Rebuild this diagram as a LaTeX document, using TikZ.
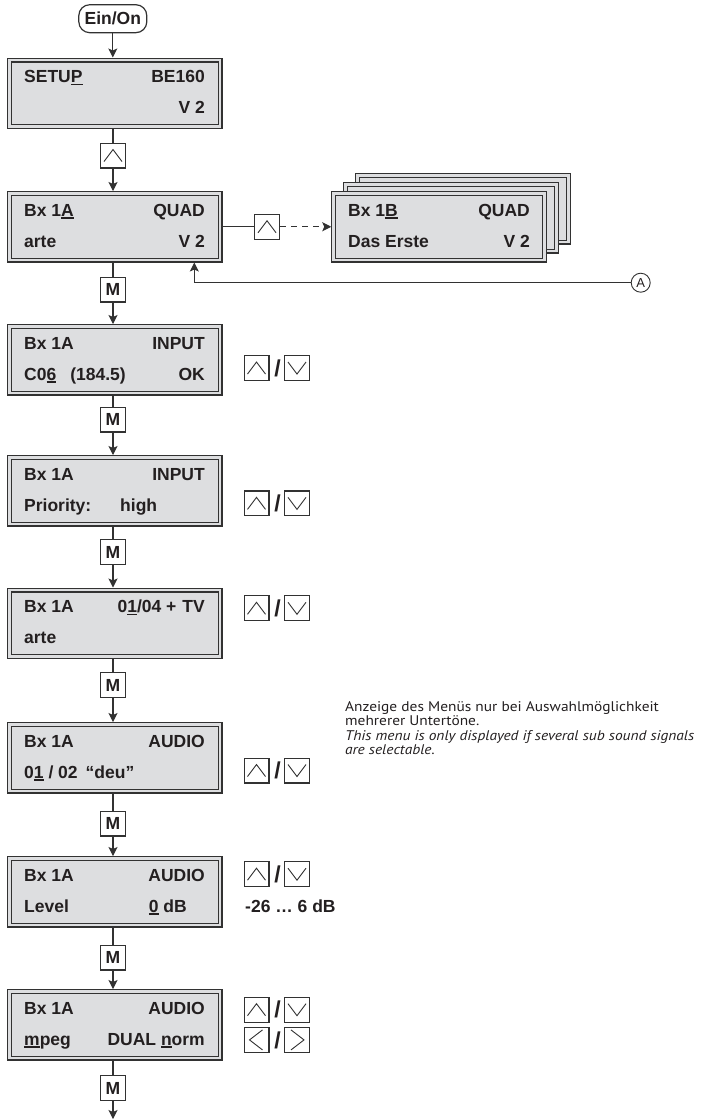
\documentclass[tikz,border=0pt]{standalone}
\usepackage{fontspec}
\setmainfont{Liberation Sans}
\newfontfamily\notefont[FakeStretch=1.1]{PT Sans}
\usetikzlibrary{arrows.meta,calc}
\definecolor{lcdfill}{RGB}{221,222,224}
\definecolor{ink}{RGB}{50,50,50}
\definecolor{txtc}{RGB}{35,31,32}
\newcommand\myul[1]{\setbox0=\hbox{#1}\rlap{\rule[-2.8pt]{\wd0}{1.5pt}}\box0\relax}
\newcommand\lcdat[3]{\node[lcdbox] (#1) at (#2,#3+35.75) {};}
\newcommand\upsym[1]{\draw[sym] ($(#1.center)+(-9,6)$) -- ($(#1.center)+(0,-6)$) -- ($(#1.center)+(9,6)$);}
\newcommand\dnsym[1]{\draw[sym] ($(#1.center)+(-9,-6)$) -- ($(#1.center)+(0,6)$) -- ($(#1.center)+(9,-6)$);}
\newcommand\ltsym[1]{\draw[sym] ($(#1.center)+(6,-10)$) -- ($(#1.center)+(-7,0)$) -- ($(#1.center)+(6,10)$);}
\newcommand\rtsym[1]{\draw[sym] ($(#1.center)+(-6,-10)$) -- ($(#1.center)+(7,0)$) -- ($(#1.center)+(-6,10)$);}
\tikzset{
  lcdbox/.style={draw=ink, double=lcdfill, double distance=2.6pt, line width=1.2pt,
    fill=lcdfill, minimum width=210.5pt, minimum height=66.5pt, inner sep=0, outer sep=2.5pt},
  btn/.style={draw=ink, line width=1.1pt, fill=white, minimum size=24.9pt, inner sep=0},
  sym/.style={draw=ink, line width=0.9pt},
  txt/.style={font=\fontsize{17.5}{20}\selectfont\bfseries, text=txtc, inner sep=0},
  lt/.style={txt, anchor=base west},
  rt/.style={txt, anchor=base east},
  note/.style={font=\notefont\fontsize{14}{16}\selectfont, text=txtc, inner sep=0, anchor=base west},
  conn/.style={draw=ink, line width=1.1pt},
  arr/.style={conn, -{Stealth[length=9pt,width=9pt,inset=2pt]}},
  slash/.style={font=\fontsize{23}{24}\selectfont\bfseries, text=txtc, inner sep=0},
}
\begin{document}
\begin{tikzpicture}[x=1pt,y=-1pt]
\useasboundingbox (0,0) rectangle (710,1119);
% start
\node[draw=ink, line width=1.2pt, rounded corners=11pt, minimum width=68pt, minimum height=28pt, inner sep=0, txt] (on) at (112.8,18.7) {Ein/On};
% boxes
\lcdat{b1}{114.8}{57.5}
\lcdat{b2}{114.8}{191}
\lcdat{bB3}{463}{173}
\lcdat{bB2}{451}{182}
\lcdat{bB}{439}{191}
\lcdat{b3}{114.8}{324}
\lcdat{b4}{114.8}{455}
\lcdat{b5}{114.8}{587.5}
\lcdat{b6}{114.8}{722}
\lcdat{b7}{114.8}{856}
\lcdat{b8}{114.8}{989}
% box texts
\node[lt] (b1a) at (24,82.5) {SETU\myul{P}};
\node[rt] (b1b) at (205,82.5) {BE160};
\node[rt] (b1d) at (205,113.5) {V 2};
\node[lt] (b2a) at (24,216) {Bx 1\myul{A}};
\node[rt] (b2b) at (205,216) {QUAD};
\node[lt] (b2c) at (24,247) {arte};
\node[rt] (b2d) at (205,247) {V 2};
\node[lt] (bBa) at (348,216) {Bx 1\myul{B}};
\node[rt] (bBb) at (530,216) {QUAD};
\node[lt] (bBc) at (348,247) {Das Erste};
\node[rt] (bBd) at (530,247) {V 2};
\node[lt] (b3a) at (24,349) {Bx 1A};
\node[rt] (b3b) at (205,349) {INPUT};
\node[lt] (b3c) at (24,380) {C0\myul{6}};
\node[rt] (b3e) at (126,380) {(184.5)};
\node[rt] (b3d) at (205,380) {OK};
\node[lt] (b4a) at (24,480) {Bx 1A};
\node[rt] (b4b) at (205,480) {INPUT};
\node[lt] (b4c) at (24,511) {Priority:};
\node[lt] (b4d) at (120,511) {high};
\node[lt] (b5a) at (24,612.5) {Bx 1A};
\node[rt] (b5b) at (205,612.5) {0\myul{1}/04 +\hspace{6pt}TV};
\node[lt] (b5c) at (24,643.5) {arte};
\node[lt] (b6a) at (24,747) {Bx 1A};
\node[rt] (b6b) at (205,747) {AUDIO};
\node[lt] (b6c) at (24,778) {0\myul{1} / 02\hspace{8pt}“deu”};
\node[lt] (b7a) at (24,881) {Bx 1A};
\node[rt] (b7b) at (205,881) {AUDIO};
\node[lt] (b7c) at (24,912) {Level};
\node[rt] (b7d) at (187,912) {\myul{0} dB};
\node[lt] (b8a) at (24,1014) {Bx 1A};
\node[rt] (b8b) at (205,1014) {AUDIO};
\node[lt] (b8c) at (24,1045) {\myul{m}peg};
\node[rt] (b8d) at (205,1045) {DUAL \myul{n}orm};
% middle column buttons
\node[btn] (u1) at (113,155.5) {}; \upsym{u1}
\node[btn, txt] (m2) at (113,289.5) {M};
\node[btn, txt] (m3) at (113,419.5) {M};
\node[btn, txt] (m4) at (113,552) {M};
\node[btn, txt] (m5) at (113,685) {M};
\node[btn, txt] (m6) at (113,823.5) {M};
\node[btn, txt] (m7) at (113,957.5) {M};
\node[btn, txt] (m8) at (113,1088) {M};
\coordinate (endc) at (113,1119);
% vertical connectors
\draw[arr] (on.south) -- (on.south |- b1.north);
\draw[conn] (u1.north |- b1.south) -- (u1.north);
\draw[arr] (u1.south) -- (u1.south |- b2.north);
\draw[conn] (m2.north |- b2.south) -- (m2.north);
\draw[arr] (m2.south) -- (m2.south |- b3.north);
\draw[conn] (m3.north |- b3.south) -- (m3.north);
\draw[arr] (m3.south) -- (m3.south |- b4.north);
\draw[conn] (m4.north |- b4.south) -- (m4.north);
\draw[arr] (m4.south) -- (m4.south |- b5.north);
\draw[conn] (m5.north |- b5.south) -- (m5.north);
\draw[arr] (m5.south) -- (m5.south |- b6.north);
\draw[conn] (m6.north |- b6.south) -- (m6.north);
\draw[arr] (m6.south) -- (m6.south |- b7.north);
\draw[conn] (m7.north |- b7.south) -- (m7.north);
\draw[arr] (m7.south) -- (m7.south |- b8.north);
\draw[conn] (m8.north |- b8.south) -- (m8.north);
\draw[arr] (m8.south) -- (endc);
% branch to Bx 1B
\node[btn] (ub) at (267,226.75) {}; \upsym{ub}
\draw[conn] (b2.east) -- (ub.west);
\draw[arr, dash pattern=on 6pt off 5pt] (ub.east) -- (bB.west);
% return A
\node[draw=ink, line width=0.9pt, circle, minimum size=19pt, inner sep=0, font=\fontsize{13}{14}\selectfont, text=txtc] (cA) at (640.7,282.7) {A};
\coordinate (ret) at (194.3,262.5);
\draw[arr] (cA.west) -| (ret);
% side buttons
\node[btn] (s3u) at (256.5,368) {}; \upsym{s3u}
\node[slash] (s3s) at (277.5,368) {/};
\node[btn] (s3d) at (297,368) {}; \dnsym{s3d}
\node[btn] (s4u) at (256.5,503.4) {}; \upsym{s4u}
\node[slash] (s4s) at (277.5,503.4) {/};
\node[btn] (s4d) at (297,503.4) {}; \dnsym{s4d}
\node[btn] (s5u) at (256.5,608.3) {}; \upsym{s5u}
\node[slash] (s5s) at (277.5,608.3) {/};
\node[btn] (s5d) at (297,608.3) {}; \dnsym{s5d}
\node[btn] (s6u) at (256.5,770.5) {}; \upsym{s6u}
\node[slash] (s6s) at (277.5,770.5) {/};
\node[btn] (s6d) at (297,770.5) {}; \dnsym{s6d}
\node[btn] (s7u) at (256.5,874.2) {}; \upsym{s7u}
\node[slash] (s7s) at (277.5,874.2) {/};
\node[btn] (s7d) at (297,874.2) {}; \dnsym{s7d}
\node[lt] (range) at (245,912) {-26 … 6 dB};
\node[btn] (s8u) at (256.5,1009.7) {}; \upsym{s8u}
\node[slash] (s8s) at (277.5,1009.7) {/};
\node[btn] (s8d) at (297,1009.7) {}; \dnsym{s8d}
\node[btn] (s8l) at (256.5,1039.9) {}; \ltsym{s8l}
\node[slash] (s8t) at (277.5,1039.9) {/};
\node[btn] (s8r) at (297,1039.9) {}; \rtsym{s8r}
% note
\node[note] (n1) at (345,711) {Anzeige des Menüs nur bei Auswahlmöglichkeit};
\node[note] (n2) at (345,725.5) {mehrerer Untertöne.};
\node[note] (n3) at (345,740) {\itshape This menu is only displayed if several sub sound signals};
\node[note] (n4) at (345,754.5) {\itshape are selectable.};
\end{tikzpicture}
\end{document}
